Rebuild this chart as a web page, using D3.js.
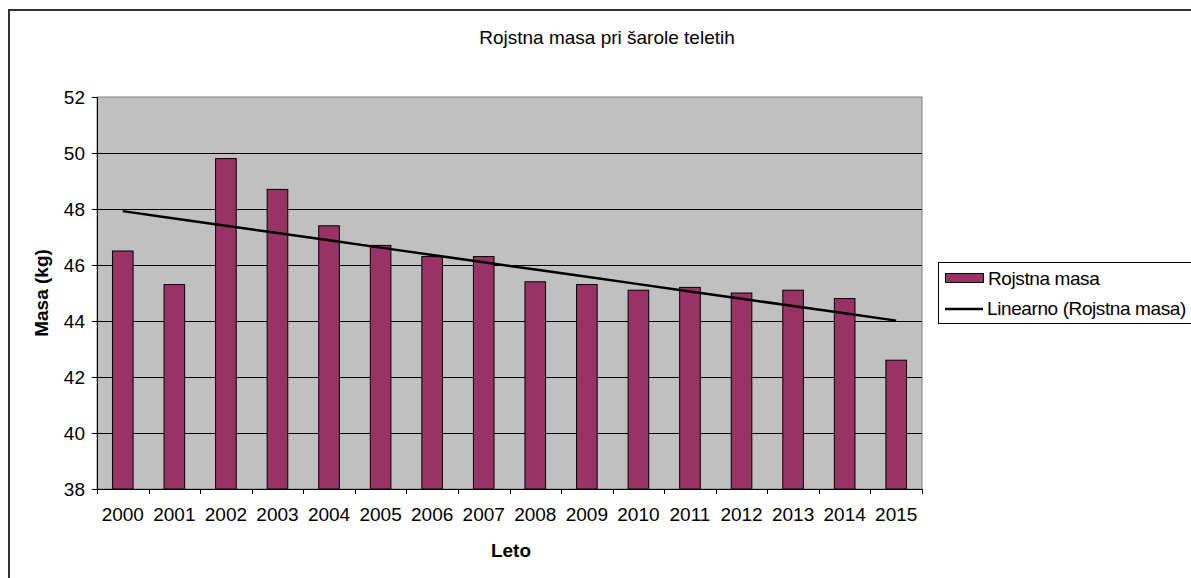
<!DOCTYPE html>
<html lang="sl">
<head>
	<meta charset="UTF-8">
	<title>Rojstna masa pri šarole teletih</title>
	<script src="https://d3js.org/d3.v7.min.js"></script>
	<style>
		body {
			margin: 0;
			background: #fff;
		}
		svg text {
			font-family: "Liberation Sans", Arial, sans-serif;
			fill: #000;
		}
	</style>
</head>
<body>
	<div id="chart"></div>

<script>
	// data
	const years = ['2000','2001','2002','2003','2004','2005','2006','2007','2008','2009','2010','2011','2012','2013','2014','2015']
	const birthMass = [46.5, 45.3, 49.8, 48.7, 47.4, 46.7, 46.3, 46.3, 45.4, 45.3, 45.1, 45.2, 45.0, 45.1, 44.8, 42.6]
	const yTicks = [38, 40, 42, 44, 46, 48, 50, 52]

	const title = 'Rojstna masa pri šarole teletih'
	const seriesName = 'Rojstna masa'
	const trendName = 'Linearno (Rojstna masa)'

	const width = 1191, height = 578
	const plot = {left: 97, top: 97, right: 922, bottom: 489}

	const svg = d3.select('#chart').append('svg')
		.attr('width', width)
		.attr('height', height)

	// chart frame (only top/left visible in the crop)
	svg.append('rect')
		.attr('x', 9).attr('y', 10)
		.attr('width', width + 20).attr('height', height + 20)
		.attr('fill', 'none')
		.attr('stroke', '#333')
		.attr('stroke-width', 2)

	const x = d3.scaleBand()
		.domain(years)
		.range([plot.left, plot.right])
		.paddingInner(0.6)
		.paddingOuter(0.3)

	const y = d3.scaleLinear()
		.domain([38, 52])
		.range([plot.bottom, plot.top])

	// plot area
	svg.append('rect')
		.attr('x', plot.left).attr('y', plot.top)
		.attr('width', plot.right - plot.left).attr('height', plot.bottom - plot.top)
		.attr('fill', '#c0c0c0')
		.attr('stroke', '#808080')
		.attr('stroke-width', 1)

	// gridlines
	svg.append('g')
		.selectAll('line')
		.data(yTicks.slice(1, -1))
		.join('line')
		.attr('x1', plot.left).attr('x2', plot.right)
		.attr('y1', d => Math.round(y(d)) + 0.5).attr('y2', d => Math.round(y(d)) + 0.5)
		.attr('stroke', '#000')
		.attr('stroke-width', 1)

	// bars
	svg.append('g')
		.selectAll('rect')
		.data(birthMass)
		.join('rect')
		.attr('x', (d, i) => x(years[i]))
		.attr('y', d => y(d))
		.attr('width', x.bandwidth())
		.attr('height', d => plot.bottom - y(d))
		.attr('fill', '#993366')
		.attr('stroke', '#000')
		.attr('stroke-width', 1)

	// linear trend (least squares, like Excel's trendline)
	const n = birthMass.length
	const xs = d3.range(n)
	const mx = d3.mean(xs), my = d3.mean(birthMass)
	const slope = d3.sum(xs, i => (i - mx) * (birthMass[i] - my)) / d3.sum(xs, i => (i - mx) * (i - mx))
	const intercept = my - slope * mx
	const trend = xs.map(i => intercept + slope * i)

	svg.append('path')
		.datum(trend)
		.attr('fill', 'none')
		.attr('stroke', '#000')
		.attr('stroke-width', 2.5)
		.attr('d', d3.line()
			.x((d, i) => x(years[i]) + x.bandwidth() / 2)
			.y(d => y(d)))

	// y axis
	const yAxis = svg.append('g')
		.attr('transform', `translate(${plot.left},0)`)
		.call(d3.axisLeft(y).tickValues(yTicks).tickSize(5).tickPadding(7).tickFormat(d3.format('d')))
	yAxis.select('.domain').attr('stroke', '#000')
	yAxis.selectAll('.tick line').attr('stroke', '#000')
	yAxis.selectAll('text').style('font-size', '19px').attr('fill', '#000')

	// x axis, ticks sit between categories like Excel
	const step = x.step()
	const xAxis = svg.append('g')
		.attr('transform', `translate(0,${plot.bottom})`)
		.call(d3.axisBottom(x).tickSize(0).tickPadding(19))
	xAxis.select('.domain').attr('stroke', '#000')
	xAxis.selectAll('text').style('font-size', '19px').attr('fill', '#000')
	xAxis.selectAll('.tick-sep')
		.data(d3.range(years.length + 1))
		.join('line')
		.attr('class', 'tick-sep')
		.attr('x1', i => Math.round(plot.left + i * step) + 0.5)
		.attr('x2', i => Math.round(plot.left + i * step) + 0.5)
		.attr('y1', 0).attr('y2', 5)
		.attr('stroke', '#000')

	// titles
	svg.append('text')
		.attr('x', 607).attr('y', 44)
		.attr('text-anchor', 'middle')
		.style('font-size', '19px')
		.text(title)

	svg.append('text')
		.attr('x', 511).attr('y', 557)
		.attr('text-anchor', 'middle')
		.style('font-size', '19px')
		.style('font-weight', 'bold')
		.text('Leto')

	svg.append('text')
		.attr('transform', 'translate(48,293) rotate(-90)')
		.attr('text-anchor', 'middle')
		.style('font-size', '19px')
		.style('font-weight', 'bold')
		.text('Masa (kg)')

	// legend
	const legend = svg.append('g').attr('transform', 'translate(938,262)')
	legend.append('rect')
		.attr('x', 0.5).attr('y', 0.5)
		.attr('width', 300).attr('height', 61)
		.attr('fill', '#fff')
		.attr('stroke', '#000')
	legend.append('rect')
		.attr('x', 7.5).attr('y', 11.5)
		.attr('width', 38).attr('height', 9)
		.attr('fill', '#993366')
		.attr('stroke', '#000')
	legend.append('text')
		.attr('x', 50).attr('y', 23)
		.style('font-size', '19px')
		.style('letter-spacing', '-0.4px')
		.text(seriesName)
	legend.append('line')
		.attr('x1', 7).attr('x2', 45)
		.attr('y1', 47).attr('y2', 47)
		.attr('stroke', '#000')
		.attr('stroke-width', 2.5)
	legend.append('text')
		.attr('x', 49).attr('y', 53)
		.style('font-size', '19px')
		.style('letter-spacing', '-0.4px')
		.text(trendName)
</script>
</body>
</html>
